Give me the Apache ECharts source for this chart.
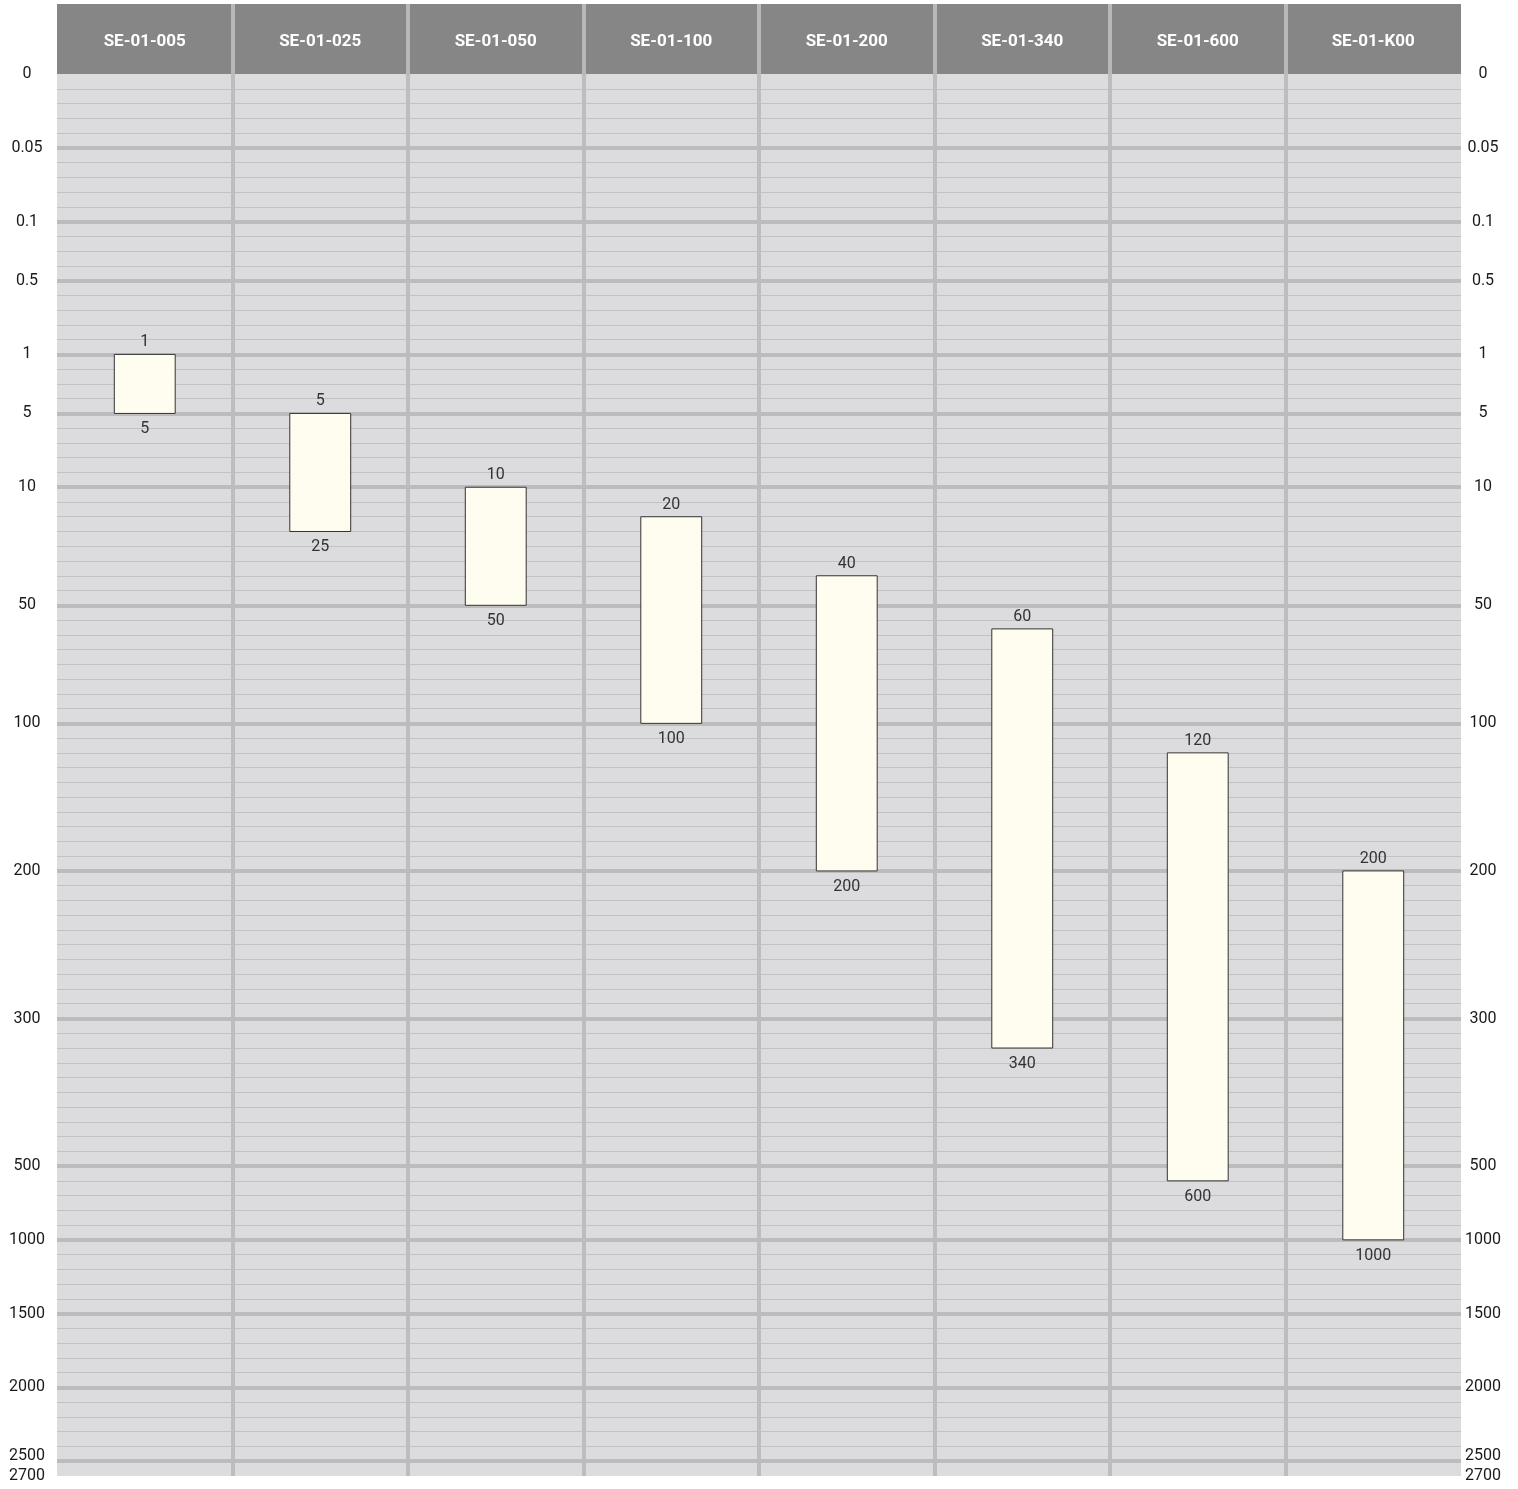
<!DOCTYPE html>
<html>
<head>
<meta charset="utf-8">
<style>
	html,body{margin:0;padding:0;background:#fff;}
	#main{width:1518px;height:1489px;}
</style>
<script src="https://cdn.jsdelivr.net/npm/echarts@6.0.0/dist/echarts.min.js"></script>
</head>
<body>
<div id="main"></div>
<script type="text/javascript">
	//型号
	var categories = ['SE-01-005','SE-01-025','SE-01-050','SE-01-100','SE-01-200','SE-01-340','SE-01-600','SE-01-K00'];
	//量程 下限/上限
	var rangeLow = [1,5,10,20,40,60,120,200];
	var rangeHigh = [5,25,50,100,200,340,600,1000];
	//刻度值 与 刻度在非线性轴上的位置(格数)
	var tickValues = [0,0.05,0.1,0.5,1,5,10,50,100,200,300,500,1000,1500,2000,2500,2700];
	var tickStops = [0,5,10,14,19,23,28,36,44,54,64,74,79,84,89,94,95];

	//数值 -> 轴位置 (分段线性)
	function toStop(v){
		for(var i=1;i<tickValues.length;i++){
			if(v<=tickValues[i]){
				var a = tickValues[i-1], b = tickValues[i];
				return tickStops[i-1] + (v-a)/(b-a)*(tickStops[i]-tickStops[i-1]);
			}
		}
		return tickStops[tickStops.length-1];
	}

	var maxStop = tickStops[tickStops.length-1];

	function stopLabel(val){
		var idx = tickStops.indexOf(val);
		if(idx<0)return '';
		//倒数第二个标签略往上挪，避免与最后一个挤在一起
		if(idx===tickStops.length-2)return '{up|'+tickValues[idx]+'}';
		return String(tickValues[idx]);
	}

	var barData = [];
	categories.forEach(function(el,index){
		barData.push([index,toStop(rangeLow[index]),toStop(rangeHigh[index]),rangeLow[index],rangeHigh[index]]);
	});

	//主刻度线 (0 与 2700 不画)
	var majorLines = [];
	tickStops.forEach(function(s,i){
		if(i===0 || i===tickStops.length-1)return;
		majorLines.push({yAxis:s});
	});

	var font = 'Roboto';

	function yLabel(margin){
		return {
			margin:margin,align:'center',color:'#1a1a1a',fontFamily:font,fontSize:16,
			showMinLabel:true,showMaxLabel:true,hideOverlap:false,
			formatter:stopLabel,
			rich:{up:{fontFamily:font,fontSize:16,color:'#1a1a1a',padding:[0,0,10,0]}}
		};
	}

	var myChart = echarts.init(document.getElementById('main'));
	var option = {
		animation:false,
		grid:[
			{left:57,right:57,top:74,height:1402,show:true,backgroundColor:'#dcdcde',borderWidth:0},
			{left:57,right:57,top:4,height:70,show:true,backgroundColor:'#868686',borderWidth:0}
		],
		xAxis:[
			{
				type:'category',gridIndex:0,data:categories,
				axisLine:{show:false},axisTick:{show:false},axisLabel:{show:false},
				splitLine:{show:true,showMinLine:false,showMaxLine:false,lineStyle:{color:'#bdbdbd',width:4}}
			},
			{
				type:'category',gridIndex:1,data:categories,position:'top',
				axisLine:{show:false},axisTick:{show:false},
				axisLabel:{inside:true,margin:38,verticalAlign:'middle',color:'#ffffff',fontFamily:font,fontWeight:'bold',fontSize:17},
				splitLine:{show:true,showMinLine:false,showMaxLine:false,lineStyle:{color:'#b8b8b8',width:4}}
			}
		],
		yAxis:[
			{
				type:'value',gridIndex:0,inverse:true,min:0,max:maxStop,interval:1,position:'left',
				axisLine:{show:false},axisTick:{show:false},
				axisLabel:yLabel(30),
				splitLine:{show:true,showMinLine:false,showMaxLine:false,lineStyle:{color:'#c2c2c4',width:1}}
			},
			{
				type:'value',gridIndex:0,inverse:true,min:0,max:maxStop,interval:1,position:'right',
				axisLine:{show:false},axisTick:{show:false},
				axisLabel:yLabel(22),
				splitLine:{show:false}
			},
			{type:'value',gridIndex:1,show:false,min:0,max:1}
		],
		series:[
			{
				//主刻度线
				type:'line',xAxisIndex:0,yAxisIndex:0,data:[],z:1,silent:true,
				markLine:{
					silent:true,symbol:['none','none'],z:1,
					label:{show:false},
					lineStyle:{type:'solid',color:'#bcbcbc',width:4},
					data:majorLines
				}
			},
			{
				type:'custom',xAxisIndex:0,yAxisIndex:0,z:3,silent:true,
				data:barData,
				renderItem:function(params,api){
					var top = api.coord([api.value(0),api.value(1)]);
					var bottom = api.coord([api.value(0),api.value(2)]);
					var w = api.size([1,0])[0]*0.347;
					return {
						type:'group',
						children:[
							{type:'rect',shape:{x:top[0]-w/2,y:top[1],width:w,height:bottom[1]-top[1]},
								style:{fill:'#fffdf0',stroke:'#333',lineWidth:1}},
							{type:'text',style:{x:top[0],y:top[1]-12,text:String(api.value(3)),align:'center',verticalAlign:'middle',
								fill:'#333',font:'16px '+font}},
							{type:'text',style:{x:top[0],y:bottom[1]+16,text:String(api.value(4)),align:'center',verticalAlign:'middle',
								fill:'#333',font:'16px '+font}}
						]
					};
				}
			}
		]
	};
	myChart.setOption(option);
</script>
</body>
</html>
